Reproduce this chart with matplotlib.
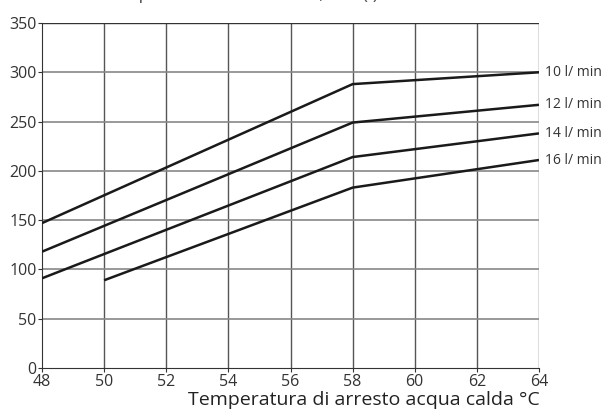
import matplotlib
matplotlib.use("Agg")
import matplotlib.pyplot as plt

plt.rcParams['font.family'] = ['Open Sans', 'DejaVu Sans']

# temperature breakpoints (deg C) and volumes (litri) per flow rate
temp_10 = [48, 58, 64]
vol_10 = [147, 288, 300]
temp_12 = [48, 58, 64]
vol_12 = [118, 249, 267]
temp_14 = [48, 58, 64]
vol_14 = [91, 214, 238]
temp_16 = [50, 58, 64]
vol_16 = [89, 183, 211]
flow_labels = ['10 l/ min', '12 l/ min', '14 l/ min', '16 l/ min']

x_ticks = [48, 50, 52, 54, 56, 58, 60, 62, 64]
y_ticks = [0, 50, 100, 150, 200, 250, 300, 350]

fig = plt.figure(figsize=(6.13, 4.16), dpi=100)
ax = fig.add_axes([42/613, 48/416, 497/613, 345/416])

for x in x_ticks[1:]:
    ax.axvline(x, color='#555555', lw=1.0, zorder=1)
for y in y_ticks[1:]:
    ax.axhline(y, color='#888888', lw=1.2, zorder=1)

series = [(temp_10, vol_10), (temp_12, vol_12), (temp_14, vol_14), (temp_16, vol_16)]
for (t, v), lab in zip(series, flow_labels):
    ax.plot(t, v, color='#1a1a1a', lw=1.8, zorder=3, solid_capstyle='butt')
    ax.text(64.2, v[-1], lab, fontsize=10, color='#333333', va='center', ha='left')

ax.set_xlim(48, 64)
ax.set_ylim(0, 350)
ax.set_xticks(x_ticks)
ax.set_yticks(y_ticks)
ax.tick_params(direction='out', length=3, width=0.8, color='#333333',
               labelsize=11.5, labelcolor='#333333', pad=1)
for side in ['top', 'right']:
    ax.spines[side].set_visible(False)
ax.spines['left'].set_color('#333333')
ax.spines['bottom'].set_color('#333333')
ax.axhline(350, color='#333333', lw=1.0, zorder=1)

fig.text(540/613, 1 - 400/416, 'Temperatura di arresto acqua calda °C',
         fontsize=14, color='#222222', ha='right', va='center')
# title, mostly cut off at the top edge in the original
fig.text(20/613, 1 + 1/416, 'Volume di acqua miscelata a 40 °C, litri (l)',
         fontsize=13.5, color='#555555', ha='left', va='baseline')

fig.savefig('out.png', dpi=100)
